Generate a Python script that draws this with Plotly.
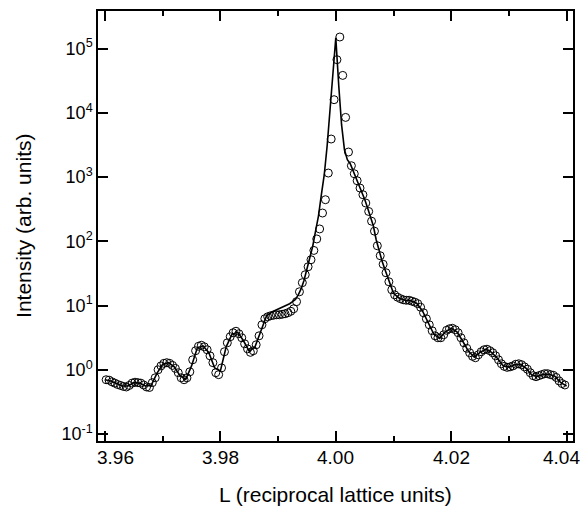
import plotly.graph_objects as go

# ---- measured data (open circles) ----
L_data = [
    3.9602, 3.9607, 3.9612, 3.9617, 3.9622, 3.9627, 3.9632, 3.9637, 3.9642, 3.9647,
    3.9652, 3.9657, 3.9662, 3.9667, 3.9672, 3.9677, 3.9682, 3.9687, 3.9692, 3.9697,
    3.9702, 3.9707, 3.9712, 3.9717, 3.9722, 3.9727, 3.9732, 3.9737, 3.9742, 3.9747,
    3.9752, 3.9757, 3.9762, 3.9767, 3.9772, 3.9777, 3.9782, 3.9787, 3.9792, 3.9797,
    3.9802, 3.9807, 3.9812, 3.9817, 3.9822, 3.9827, 3.9832, 3.9837, 3.9842, 3.9847,
    3.9852, 3.9857, 3.9862, 3.9867, 3.9872, 3.9877, 3.9882, 3.9887, 3.9892, 3.9897,
    3.9902, 3.9907, 3.9912, 3.9917, 3.9922, 3.9927, 3.9932, 3.9937, 3.9942, 3.9947,
    3.9952, 3.9957, 3.9962, 3.9967, 3.9972, 3.9977, 3.9982, 3.9987, 3.9992, 3.9997,
    4.0002, 4.0007, 4.0012, 4.0017, 4.0022, 4.0027, 4.0032, 4.0037, 4.0042, 4.0047,
    4.0052, 4.0057, 4.0062, 4.0067, 4.0072, 4.0077, 4.0082, 4.0087, 4.0092, 4.0097,
    4.0102, 4.0107, 4.0112, 4.0117, 4.0122, 4.0127, 4.0132, 4.0137, 4.0142, 4.0147,
    4.0152, 4.0157, 4.0162, 4.0167, 4.0172, 4.0177, 4.0182, 4.0187, 4.0192, 4.0197,
    4.0202, 4.0207, 4.0212, 4.0217, 4.0222, 4.0227, 4.0232, 4.0237, 4.0242, 4.0247,
    4.0252, 4.0257, 4.0262, 4.0267, 4.0272, 4.0277, 4.0282, 4.0287, 4.0292, 4.0297,
    4.0302, 4.0307, 4.0312, 4.0317, 4.0322, 4.0327, 4.0332, 4.0337, 4.0342, 4.0347,
    4.0352, 4.0357, 4.0362, 4.0367, 4.0372, 4.0377, 4.0382, 4.0387, 4.0392, 4.0397,
]
I_data = [
    0.70, 0.69, 0.65, 0.62, 0.59, 0.57, 0.55, 0.54, 0.57, 0.62,
    0.64, 0.63, 0.62, 0.58, 0.54, 0.53, 0.63, 0.75, 1.00, 1.15,
    1.26, 1.29, 1.26, 1.17, 1.05, 0.90, 0.75, 0.70, 0.75, 0.93,
    1.43, 1.98, 2.32, 2.41, 2.28, 2.05, 1.65, 1.29, 0.90, 0.84,
    1.07, 1.91, 2.63, 3.27, 3.77, 3.98, 3.64, 3.15, 2.54, 2.12,
    1.87, 1.98, 2.45, 3.38, 5.02, 6.23, 6.69, 6.94, 7.06, 7.19,
    7.19, 7.32, 7.45, 7.73, 8.15, 8.92, 11.5, 16.4, 22.7, 30.2,
    40.2, 51.7, 72.2, 109, 156, 276, 445, 1158, 3922, 16060,
    67420, 152100, 38380, 8511, 2460, 1505, 1130, 879, 676, 532,
    395, 292, 206, 144, 85.4, 59.7, 44.0, 32.4, 23.5, 17.6,
    14.7, 13.5, 12.8, 12.3, 12.1, 12.1, 11.7, 11.3, 10.7, 9.41,
    7.73, 6.23, 5.02, 4.05, 3.38, 3.15, 3.15, 3.51, 4.12, 4.35,
    4.43, 4.20, 3.77, 3.15, 2.63, 2.16, 1.84, 1.62, 1.54, 1.71,
    1.91, 2.05, 2.09, 1.98, 1.84, 1.65, 1.43, 1.24, 1.13, 1.09,
    1.11, 1.15, 1.22, 1.24, 1.20, 1.11, 1.02, 0.90, 0.81, 0.78,
    0.81, 0.84, 0.87, 0.87, 0.84, 0.82, 0.76, 0.67, 0.61, 0.58,
]

# ---- fit (solid line) ----
L_fit = [
    3.960, 3.961, 3.962, 3.963, 3.964, 3.965, 3.966, 3.967, 3.968, 3.969,
    3.970, 3.971, 3.972, 3.973, 3.974, 3.975, 3.976, 3.977, 3.978, 3.979,
    3.980, 3.981, 3.982, 3.983, 3.984, 3.985, 3.986, 3.987, 3.988, 3.989,
    3.9900, 3.9905, 3.9910, 3.9915, 3.9920, 3.9925, 3.9930, 3.9935, 3.9940, 3.9945,
    3.9950, 3.9955, 3.9960, 3.9965, 3.9970, 3.9975, 3.9980, 3.9985, 3.9990, 3.9995,
    4.0000, 4.0005, 4.0010, 4.0015, 4.0020, 4.0025, 4.0030, 4.0035, 4.0040, 4.0045,
    4.0050, 4.0055, 4.0060, 4.0065, 4.0070, 4.0075, 4.0080, 4.0085, 4.0090, 4.0095,
    4.0100,
    4.011, 4.012, 4.013, 4.014, 4.015, 4.016, 4.017, 4.018, 4.019, 4.020,
    4.021, 4.022, 4.023, 4.024, 4.025, 4.026, 4.027, 4.028, 4.029, 4.030,
    4.031, 4.032, 4.033, 4.034, 4.035, 4.036, 4.037, 4.038, 4.039, 4.040,
]
I_fit = [
    0.70, 0.67, 0.61, 0.56, 0.56, 0.63, 0.62, 0.56, 0.57, 0.88,
    1.22, 1.29, 1.11, 0.81, 0.71, 1.15, 2.20, 2.36, 1.84, 1.07,
    0.96, 2.28, 3.57, 3.84, 2.83, 1.94, 2.28, 4.12, 6.94, 8.01,
    8.76, 9.24, 9.58, 10.1, 10.7, 11.5, 12.5, 14.7, 18.3, 24.8,
    38.1, 56.5, 83.9, 146, 250, 532, 1090, 3084, 10820, 35350,
    148400, 27500, 6550, 2672, 1866, 1617, 1258, 979, 761, 603,
    453, 334, 242, 175, 106, 68.9, 49.9, 36.8, 27.1, 19.6,
    15.5,
    13.0, 12.1, 11.9, 10.9, 8.30, 5.49, 3.57, 3.09, 3.91, 4.43,
    3.91, 2.78, 1.94, 1.57, 1.87, 2.09, 1.87, 1.51, 1.15, 1.10,
    1.20, 1.22, 1.05, 0.82, 0.79, 0.85, 0.85, 0.79, 0.63, 0.56,
]

# ---- ticks ----
x_tick_vals = [3.96, 3.98, 4.00, 4.02, 4.04]
x_tick_text = ["3.96", "3.98", "4.00", "4.02", "4.04"]
x_minor_vals = [3.97, 3.99, 4.01, 4.03]
y_tick_vals = [0.1, 1, 10, 100, 1000, 10000, 100000]
y_tick_text = ["10<sup>-1</sup>", "10<sup>0</sup>", "10<sup>1</sup>", "10<sup>2</sup>",
               "10<sup>3</sup>", "10<sup>4</sup>", "10<sup>5</sup>"]

FONT = "Liberation Sans, Arial, sans-serif"

fig = go.Figure()
fig.add_trace(go.Scatter(
    x=L_fit, y=I_fit, mode="lines",
    line=dict(color="black", width=1.6),
    showlegend=False, hoverinfo="skip",
))
fig.add_trace(go.Scatter(
    x=L_data, y=I_data, mode="markers",
    marker=dict(symbol="circle-open", size=8, color="black", line=dict(width=1, color="black")),
    showlegend=False,
))

# x tick labels drawn as text so the end labels can stay inside the page
annotations = []
n_x = len(x_tick_vals)
for k, (v, t) in enumerate(zip(x_tick_vals, x_tick_text)):
    if k == 0:
        anchor, shift = "left", -10
    elif k == n_x - 1:
        anchor, shift = "right", 15
    else:
        anchor, shift = "center", 0
    annotations.append(dict(
        text=t, xref="x", yref="paper", x=v, y=-0.039,
        xanchor=anchor, yanchor="middle", xshift=shift,
        showarrow=False, font=dict(size=19, family=FONT),
    ))

annotations += [
    dict(text="L (reciprocal lattice units)", xref="paper", yref="paper",
         x=0.5, y=-0.1233, xanchor="center", yanchor="middle",
         showarrow=False, font=dict(size=21, family=FONT)),
    dict(text="Intensity (arb. units)", xref="paper", yref="paper",
         x=-0.158, y=0.5, xanchor="center", yanchor="middle", textangle=-90,
         showarrow=False, font=dict(size=21, family=FONT)),
]

fig.update_layout(
    width=582, height=506,
    margin=dict(l=98, r=9, t=11, b=65, autoexpand=False),
    paper_bgcolor="white", plot_bgcolor="white",
    font=dict(family=FONT, color="black"),
    xaxis=dict(
        range=[3.958787, 4.041109], automargin=False,
        tickmode="array", tickvals=x_tick_vals, showticklabels=False,
        ticks="inside", ticklen=10, tickwidth=1.5, tickcolor="black",
        minor=dict(tickmode="array", tickvals=x_minor_vals, ticks="inside",
                   ticklen=5, tickwidth=1.5, tickcolor="black"),
        showline=True, linecolor="black", linewidth=1.5, mirror="ticks",
        showgrid=False, zeroline=False,
    ),
    yaxis=dict(
        type="log", range=[-1.109, 5.587], automargin=False,
        tickmode="array", tickvals=y_tick_vals, ticktext=y_tick_text,
        ticks="inside", ticklen=10, tickwidth=1.5, tickcolor="black",
        showline=True, linecolor="black", linewidth=1.5, mirror="ticks",
        showgrid=False, zeroline=False,
        tickfont=dict(size=18, family=FONT),
    ),
    annotations=annotations,
)

fig.write_html(
    "out.html",
    config={"displayModeBar": False},
    post_script="document.body.style.margin='0';document.body.style.overflow='hidden';",
)
